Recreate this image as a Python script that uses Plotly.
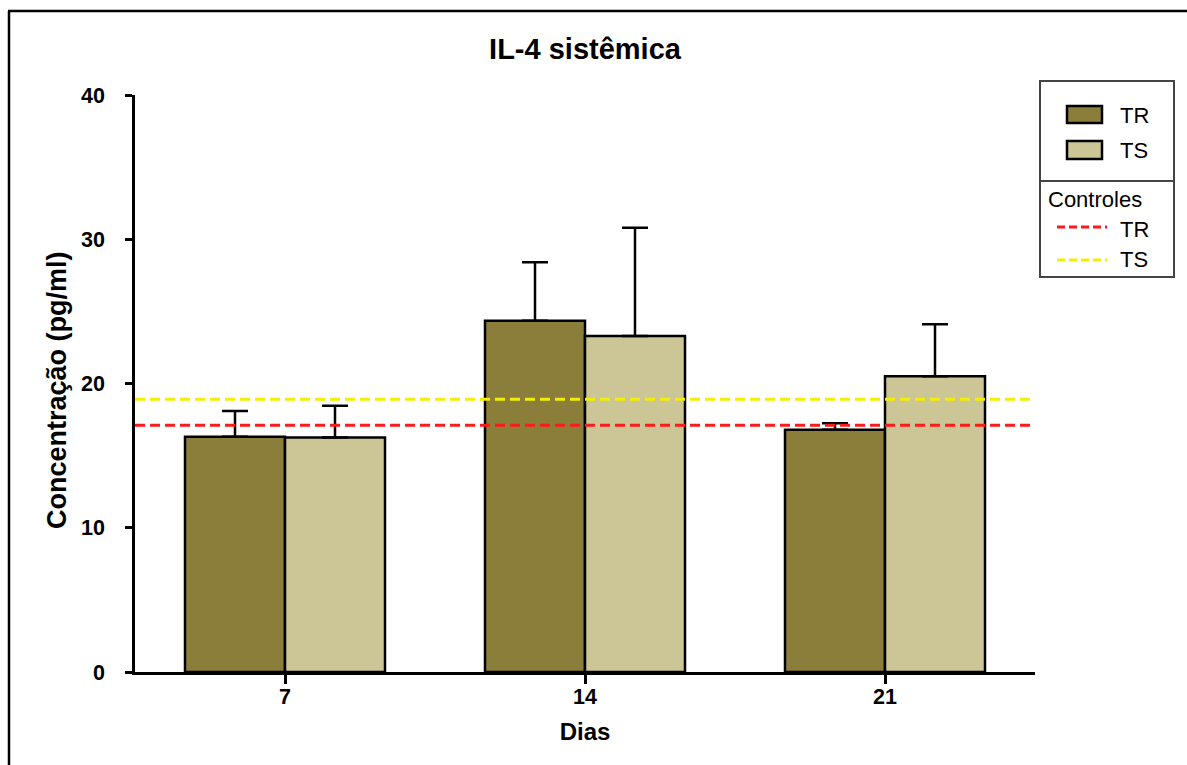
import plotly.graph_objects as go

# Dados: concentração sistêmica de IL-4 (média e erro) por dia
dias = ["7", "14", "21"]
tr_media = [16.3, 24.35, 16.8]
tr_erro = [1.8, 4.05, 0.45]
ts_media = [16.25, 23.3, 20.5]
ts_erro = [2.2, 7.5, 3.6]
controle_tr = 17.1
controle_ts = 18.9
y_ticks = [0, 10, 20, 30, 40]

COR_TR = "#8B7D3A"
COR_TS = "#CCC596"
COR_CTRL_TR = "#FF1A1A"
COR_CTRL_TS = "#F2F000"
FONTE = "Liberation Sans, Arial, sans-serif"

W, H = 1187, 765
ML, MR, MT, MB = 135, 152, 95, 93
PW, PH = W - ML - MR, H - MT - MB


def px_x(px):
    return (px - ML) / PW


def px_y(py):
    return (H - MB - py) / PH


def linha(x0, y0, x1, y1, cor, largura, dash="solid"):
    return dict(type="line", xref="paper", yref="paper",
                x0=px_x(x0), y0=px_y(y0), x1=px_x(x1), y1=px_y(y1),
                line=dict(color=cor, width=largura, dash=dash))


fig = go.Figure()

for nome, media, erro, cor in [("TR", tr_media, tr_erro, COR_TR),
                               ("TS", ts_media, ts_erro, COR_TS)]:
    fig.add_trace(go.Bar(
        name=nome, x=dias, y=media,
        marker=dict(color=cor, line=dict(color="black", width=2.5)),
        error_y=dict(type="data", array=erro, arrayminus=[0] * len(erro),
                     symmetric=False, color="black", thickness=2.5, width=13),
    ))

shapes = [
    # Moldura externa (esquerda e topo)
    linha(9, 11, 9, 770, "black", 2.5),
    linha(8, 11, 1190, 11, "black", 2.5),
    # Caixa da legenda
    linha(1040, 81, 1174, 81, "#444444", 2),
    linha(1040, 277, 1174, 277, "#444444", 2),
    linha(1040, 80, 1040, 278, "#444444", 2),
    linha(1174, 80, 1174, 278, "#444444", 2),
    linha(1040, 181, 1174, 181, "#444444", 2),
]
for cor, y0, y1 in [(COR_TR, 106, 123), (COR_TS, 141, 159)]:
    shapes.append(dict(type="rect", xref="paper", yref="paper",
                       x0=px_x(1067), x1=px_x(1102), y0=px_y(y1), y1=px_y(y0),
                       line=dict(color="black", width=2.5), fillcolor=cor))
shapes.append(linha(1057, 227, 1107, 227, COR_CTRL_TR, 3, "8px,4px"))
shapes.append(linha(1057, 260, 1107, 260, COR_CTRL_TS, 3, "8px,4px"))

annotations = []
for texto, xx, yy in [("TR", 1118, 115), ("TS", 1118, 151), ("Controles", 1046, 199),
                      ("TR", 1118, 229), ("TS", 1118, 259)]:
    annotations.append(dict(text=texto, xref="paper", yref="paper",
                            x=px_x(xx), y=px_y(yy), xanchor="left", yanchor="middle",
                            showarrow=False, font=dict(family=FONTE, size=22, color="black")))
# Título do eixo y
annotations.append(dict(text="<b>Concentração (pg/ml)</b>", xref="paper", yref="paper",
                        x=px_x(57), y=px_y(390), xanchor="center", yanchor="middle",
                        textangle=-90, showarrow=False,
                        font=dict(family=FONTE, size=27, color="black")))

fig.update_layout(
    width=W, height=H, autosize=False,
    margin=dict(l=ML, r=MR, t=MT, b=MB),
    paper_bgcolor="white", plot_bgcolor="white",
    barmode="group", bargap=1 / 3, bargroupgap=0,
    showlegend=False,
    title=dict(text="<b>IL-4 sistêmica</b>", x=0.5, xref="paper", xanchor="center",
               y=1 - 49 / H, yref="container", yanchor="middle",
               font=dict(family=FONTE, size=29, color="black")),
    xaxis=dict(type="category", range=[-0.5, 2.5], showline=True, linecolor="black",
               linewidth=2.5, ticks="outside", ticklen=9, tickwidth=2.5, tickcolor="black",
               tickfont=dict(family=FONTE, size=21.5, color="black", weight="bold"),
               ticklabelstandoff=-6,
               showgrid=False, zeroline=False,
               title=dict(text="Dias", standoff=16,
                          font=dict(family=FONTE, size=24, color="black", weight="bold"))),
    yaxis=dict(range=[0, 40], tickvals=y_ticks, showline=True, linecolor="black",
               linewidth=2.5, ticks="outside", ticklen=7, tickwidth=2.5, tickcolor="black",
               tickfont=dict(family=FONTE, size=21.5, color="black", weight="bold"),
               ticklabelstandoff=16,
               showgrid=False, zeroline=False),
    shapes=shapes, annotations=annotations,
)

# Linhas de referência dos controles
fig.add_hline(y=controle_tr, line=dict(color=COR_CTRL_TR, width=3, dash="10px,5px"))
fig.add_hline(y=controle_ts, line=dict(color=COR_CTRL_TS, width=3, dash="10px,5px"))

fig.write_html("out.html")
